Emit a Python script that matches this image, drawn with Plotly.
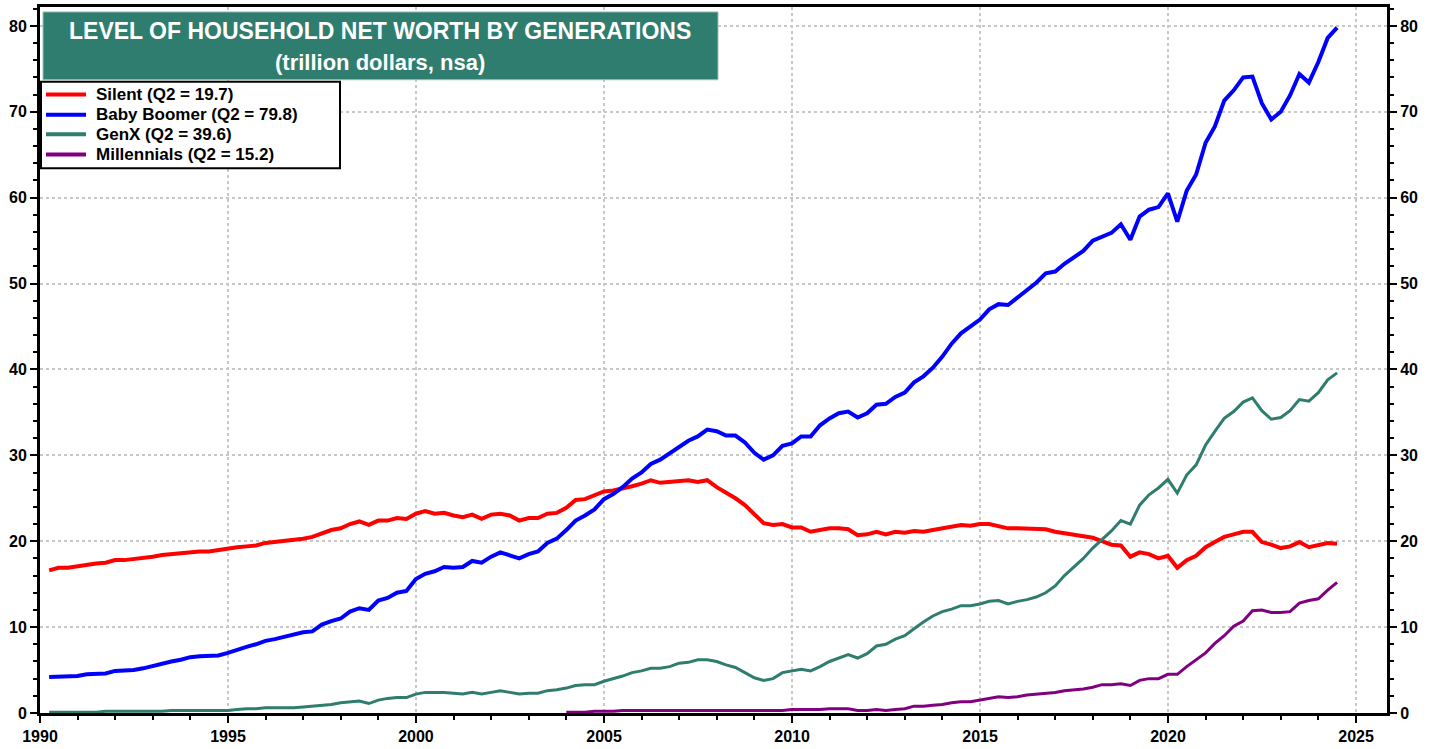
import plotly.graph_objects as go

# Quarter-end dates, 1990Q1 .. 2024Q2
quarter_ends = ["03-31", "06-30", "09-30", "12-31"]
dates = [f"{y}-{q}" for y in range(1990, 2025) for q in quarter_ends][:138]

silent = [16.6, 16.9, 16.9, 17.1, 17.3, 17.4, 17.5, 17.8, 17.8, 17.9, 18.1, 18.2,
          18.4, 18.5, 18.6, 18.8, 18.8, 18.8, 19.0, 19.1, 19.3, 19.4, 19.5, 19.8,
          19.9, 20.1, 20.2, 20.3, 20.5, 20.9, 21.3, 21.5, 22.0, 22.3, 21.9, 22.4,
          22.4, 22.7, 22.6, 23.2, 23.5, 23.2, 23.3, 23.0, 22.8, 23.1, 22.6, 23.1,
          23.2, 23.0, 22.4, 22.7, 22.7, 23.2, 23.3, 23.9, 24.8, 24.9, 25.3, 25.8,
          25.9, 26.1, 26.4, 26.7, 27.1, 26.8, 26.9, 27.1, 27.1, 26.9, 27.1, 26.3,
          25.7, 25.0, 24.2, 23.1, 22.1, 21.9, 22.0, 21.6, 21.6, 21.1, 21.3, 21.5,
          21.5, 21.4, 20.7, 20.8, 21.1, 20.8, 21.1, 21.0, 21.2, 21.1, 21.3, 21.5,
          21.7, 21.9, 21.8, 22.0, 22.0, 21.8, 21.5, 21.5, 21.5, 21.5, 21.4, 21.1,
          20.9, 20.8, 20.5, 20.4, 20.0, 19.6, 19.5, 18.2, 18.7, 18.5, 18.0, 18.3,
          16.9, 17.8, 18.3, 19.3, 19.9, 20.5, 20.8, 21.1, 21.1, 19.9, 19.6, 19.2,
          19.4, 19.9, 19.3, 19.5, 19.8, 19.7]

boomer = [4.2, 4.2, 4.2, 4.3, 4.5, 4.6, 4.6, 4.9, 4.9, 5.0, 5.2, 5.5,
          5.8, 6.0, 6.2, 6.5, 6.6, 6.7, 6.7, 7.0, 7.4, 7.7, 8.0, 8.4,
          8.6, 8.9, 9.2, 9.4, 9.5, 10.3, 10.7, 11.0, 11.8, 12.2, 12.0, 13.1,
          13.4, 14.0, 14.2, 15.6, 16.2, 16.5, 17.0, 16.9, 17.0, 17.7, 17.5, 18.2,
          18.7, 18.4, 18.0, 18.5, 18.8, 19.8, 20.3, 21.3, 22.4, 23.0, 23.7, 24.9,
          25.5, 26.3, 27.3, 28.0, 29.0, 29.5, 30.2, 31.0, 31.7, 32.2, 33.0, 32.8,
          32.3, 32.3, 31.5, 30.3, 29.5, 30.0, 31.1, 31.4, 32.2, 32.2, 33.5, 34.3,
          34.9, 35.1, 34.4, 34.9, 35.9, 36.0, 36.8, 37.3, 38.5, 39.2, 40.2, 41.5,
          43.0, 44.2, 45.0, 45.8, 47.0, 47.6, 47.5, 48.4, 49.2, 50.1, 51.2, 51.4,
          52.3, 53.0, 53.8, 55.0, 55.4, 55.9, 56.9, 55.1, 57.8, 58.6, 58.9, 60.5,
          57.2, 60.8, 62.7, 66.4, 68.3, 71.3, 72.5, 74.0, 74.1, 71.0, 69.1, 70.0,
          71.9, 74.4, 73.4, 75.8, 78.6, 79.8]

genx = [0.1, 0.1, 0.1, 0.1, 0.1, 0.1, 0.2, 0.2, 0.2, 0.2, 0.2, 0.2,
        0.2, 0.3, 0.3, 0.3, 0.3, 0.3, 0.3, 0.3, 0.4, 0.5, 0.5, 0.6,
        0.6, 0.6, 0.6, 0.7, 0.8, 0.9, 1.0, 1.2, 1.3, 1.4, 1.1, 1.5,
        1.7, 1.8, 1.8, 2.2, 2.4, 2.4, 2.4, 2.3, 2.2, 2.4, 2.2, 2.4,
        2.6, 2.4, 2.2, 2.3, 2.3, 2.6, 2.7, 2.9, 3.2, 3.3, 3.3, 3.7,
        4.0, 4.3, 4.7, 4.9, 5.2, 5.2, 5.4, 5.8, 5.9, 6.2, 6.2, 6.0,
        5.6, 5.3, 4.7, 4.1, 3.8, 4.0, 4.7, 4.9, 5.1, 4.9, 5.4, 6.0,
        6.4, 6.8, 6.4, 6.9, 7.8, 8.0, 8.6, 9.0, 9.8, 10.6, 11.3, 11.8,
        12.1, 12.5, 12.5, 12.7, 13.0, 13.1, 12.7, 13.0, 13.2, 13.5, 14.0, 14.8,
        16.0, 17.0, 18.0, 19.2, 20.2, 21.2, 22.4, 22.0, 24.2, 25.4, 26.2, 27.2,
        25.6, 27.7, 28.9, 31.2, 32.8, 34.3, 35.1, 36.2, 36.7, 35.2, 34.2, 34.4,
        35.2, 36.5, 36.3, 37.3, 38.8, 39.6]

# Millennials start at 2003Q4
millennials = [0.1, 0.1, 0.1, 0.2, 0.2, 0.2, 0.3, 0.3, 0.3, 0.3, 0.3, 0.3,
               0.3, 0.3, 0.3, 0.3, 0.3, 0.3, 0.3, 0.3, 0.3, 0.3, 0.3, 0.3,
               0.4, 0.4, 0.4, 0.4, 0.5, 0.5, 0.5, 0.3, 0.3, 0.4, 0.3, 0.4,
               0.5, 0.8, 0.8, 0.9, 1.0, 1.2, 1.3, 1.3, 1.5, 1.7, 1.9, 1.8,
               1.9, 2.1, 2.2, 2.3, 2.4, 2.6, 2.7, 2.8, 3.0, 3.3, 3.3, 3.4,
               3.2, 3.8, 4.0, 4.0, 4.5, 4.5, 5.4, 6.2, 7.0, 8.1, 9.0, 10.1,
               10.7, 11.9, 12.0, 11.7, 11.7, 11.8, 12.8, 13.1, 13.3, 14.3, 15.2]
mill_dates = dates[len(dates) - len(millennials):]

names = ["Silent (Q2 = 19.7)", "Baby Boomer (Q2 = 79.8)", "GenX (Q2 = 39.6)",
         "Millennials (Q2 = 15.2)"]
colors = ["#FF0000", "#0000FF", "#2E7D6E", "#800080"]
widths = [4, 4, 3, 3]

title_line1 = "LEVEL OF HOUSEHOLD NET WORTH BY GENERATIONS"
title_line2 = "(trillion dollars, nsa)"

y_ticks = [0, 10, 20, 30, 40, 50, 60, 70, 80]
x_range = ["1990-01-01", "2025-10-28"]
y_range = [0, 82.2]

FONT = "Liberation Sans, Arial, sans-serif"

# plot-area geometry in pixels (used to place overlay boxes)
L, R, T, B = 40, 52, 4, 27
W, H = 1439, 749
PW, PH = W - L - R, H - T - B


def px(x):
    return (x - L) / PW


def py(y):
    return 1 - (y - T) / PH


fig = go.Figure()
series = [(dates, silent), (dates, boomer), (dates, genx), (mill_dates, millennials)]
for (xs, ys), nm, c, w in zip(series, names, colors, widths):
    fig.add_trace(go.Scatter(x=xs, y=ys, mode="lines", name=nm,
                             line=dict(color=c, width=w), showlegend=False))

# invisible trace to activate the right-hand axis
fig.add_trace(go.Scatter(x=dates, y=boomer, yaxis="y2", mode="lines",
                         line=dict(width=0), opacity=0, showlegend=False,
                         hoverinfo="skip"))

tick_font = dict(family=FONT, size=16, color="black", weight="bold")

fig.update_layout(
    width=W, height=H,
    margin=dict(l=L, r=R, t=T, b=B),
    paper_bgcolor="white", plot_bgcolor="white",
    showlegend=False,
    xaxis=dict(type="date", range=x_range, dtick="M60", tick0="1990-01-01",
               tickformat="%Y", ticks="outside", ticklen=7, tickwidth=2,
               tickcolor="black", showline=True, linecolor="black", linewidth=3,
               mirror=True, showgrid=True, gridcolor="#c8c8c8", griddash="dot",
               gridwidth=1.5, zeroline=False, tickfont=tick_font,
               minor=dict(ticks="outside", dtick="M12", tick0="1990-01-01",
                          ticklen=4, tickwidth=1.5, tickcolor="black",
                          showgrid=False)),
    yaxis=dict(range=y_range, tickvals=y_ticks, ticks="outside", ticklen=7,
               tickwidth=2, tickcolor="black", showline=True, linecolor="black",
               linewidth=3, mirror=True, showgrid=True, gridcolor="#c8c8c8",
               griddash="dot", gridwidth=1.5, zeroline=False, tickfont=tick_font,
               minor=dict(ticks="outside", dtick=2, tick0=0, ticklen=4,
                          tickwidth=1.5, tickcolor="black", showgrid=False)),
    yaxis2=dict(range=y_range, tickvals=y_ticks, overlaying="y", side="right",
                ticks="outside", ticklen=7, tickwidth=2, tickcolor="black",
                showline=True, linecolor="black", linewidth=3, showgrid=False,
                zeroline=False, tickfont=tick_font,
                minor=dict(ticks="outside", dtick=2, tick0=0, ticklen=4,
                           tickwidth=1.5, tickcolor="black", showgrid=False)),
)

# Title box
fig.add_shape(type="rect", xref="paper", yref="paper",
              x0=px(43), x1=px(718), y0=py(78), y1=py(9),
              fillcolor="#2E7D6E", line=dict(color="#9fbfb8", width=1), layer="above")
fig.add_annotation(xref="paper", yref="paper", x=px(380), y=py(28),
                   text=title_line1, showarrow=False, xanchor="center", yanchor="middle",
                   font=dict(family=FONT, size=23, color="white", weight="bold"))
fig.add_annotation(xref="paper", yref="paper", x=px(380), y=py(60),
                   text=title_line2, showarrow=False, xanchor="center", yanchor="middle",
                   font=dict(family=FONT, size=22, color="white", weight="bold"))

# Legend box (drawn as a key panel)
fig.add_shape(type="rect", xref="paper", yref="paper",
              x0=px(41), x1=px(340), y0=py(168), y1=py(80),
              fillcolor="white", line=dict(color="black", width=2), layer="above")
row_y = [93, 113.5, 133.5, 154]
for nm, c, ry in zip(names, colors, row_y):
    fig.add_shape(type="line", xref="paper", yref="paper",
                  x0=px(46), x1=px(86), y0=py(ry), y1=py(ry),
                  line=dict(color=c, width=4), layer="above")
    fig.add_annotation(xref="paper", yref="paper", x=px(94), y=py(ry),
                       text=nm, showarrow=False, xanchor="left", yanchor="middle",
                       font=dict(family=FONT, size=17, color="black", weight="bold"))

fig.write_html("out.html", config={"displayModeBar": False},
               post_script="document.body.style.margin='0';")
